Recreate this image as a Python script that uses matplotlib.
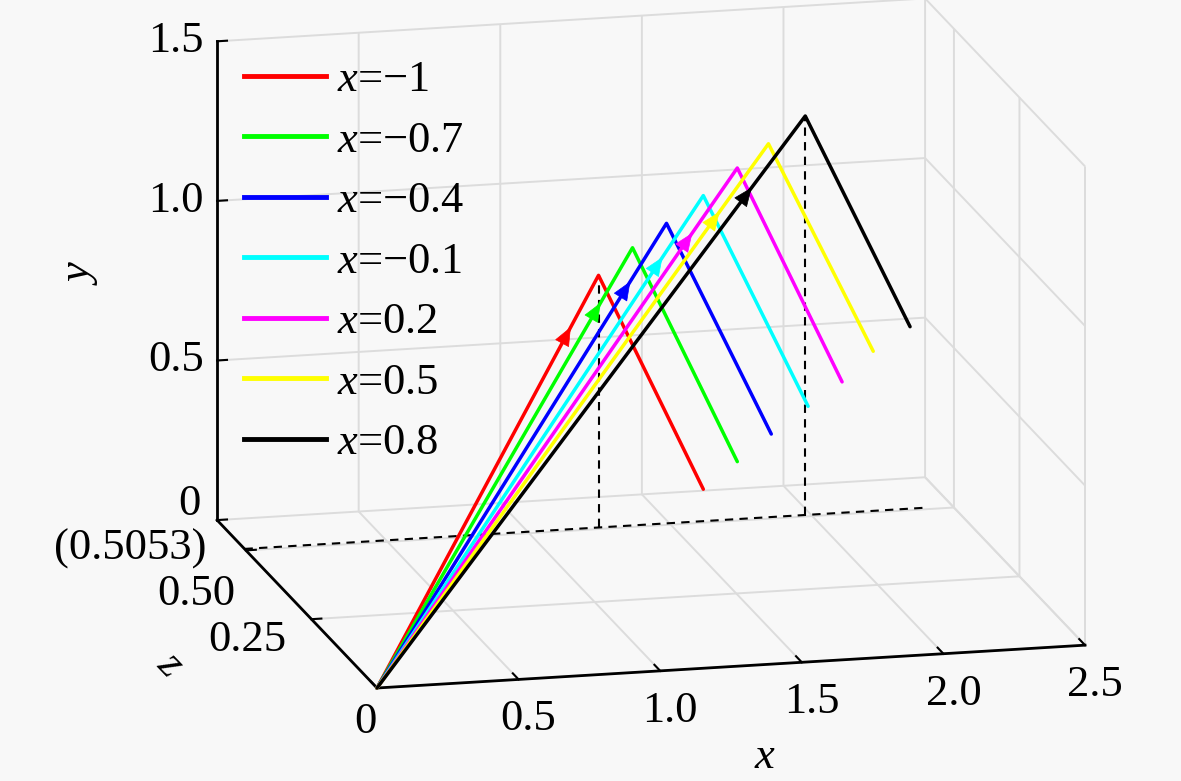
import numpy as np
import matplotlib
matplotlib.use('Agg')
import matplotlib.pyplot as plt
from matplotlib.lines import Line2D

plt.rcParams['font.family'] = ['Liberation Serif', 'DejaVu Serif']
plt.rcParams['mathtext.fontset'] = 'custom'
plt.rcParams['mathtext.rm'] = 'Liberation Serif'
plt.rcParams['mathtext.it'] = 'Liberation Serif:italic'

# ---------------- data ----------------
params = [-1, -0.7, -0.4, -0.1, 0.2, 0.5, 0.8]
legend_labels = ['$x$=\u22121', '$x$=\u22120.7', '$x$=\u22120.4', '$x$=\u22120.1',
                 '$x$=0.2', '$x$=0.5', '$x$=0.8']
colors = ['#ff0000', '#00ff00', '#0000ff', '#00ffff', '#ff00ff', '#ffff00', '#000000']
peak_x = [1.25, 1.37, 1.49, 1.62, 1.74, 1.85, 1.98]
peak_y = [0.79, 0.87, 0.94, 1.02, 1.10, 1.17, 1.25]
end_x = [1.62, 1.74, 1.86, 1.99, 2.11, 2.22, 2.35]
end_y = [0.10, 0.18, 0.26, 0.34, 0.41, 0.50, 0.57]
peak_z = 0.5053
arrow_frac = 0.875
ref_line_x_end = 2.4
drop_curves = [0, 6]          # curves whose peaks get a dashed drop line

x_ticks = [0, 0.5, 1.0, 1.5, 2.0, 2.5]
x_ticklabels = ['0', '0.5', '1.0', '1.5', '2.0', '2.5']
y_ticks = [0, 0.5, 1.0, 1.5]
y_ticklabels = ['0', '0.5', '1.0', '1.5']
z_ticks = [0.25, 0.5]
z_ticklabels = ['0.25', '0.50']
z_special_label = '(0.5053)'
x_lim = (0, 2.5)
y_lim = (0, 1.5)
z_lim = (0, 0.61)

# ---------------- figure ----------------
W, H = 1181, 781
BG = '#f8f8f8'
GRID = '#dcdcdc'
FS = 32
fig = plt.figure(figsize=(W / 100, H / 100), dpi=100, facecolor=BG)
ax = fig.add_axes([0.2, 0.2, 0.5, 0.5 * W / H], projection='3d',
                  proj_type='ortho', computed_zorder=False)
ax.set_facecolor((1, 1, 1, 0))

# mpl axes: x -> x, y (depth) -> chart z, z (vertical) -> chart y
ax.set_xlim(*x_lim)
ax.set_ylim(*z_lim)
ax.set_zlim(*y_lim)
ax.set_box_aspect((727, 684, 494))
ax.view_init(elev=14.6, azim=-103.5)

ax.set_xticks(x_ticks, labels=[''] * len(x_ticks))
ax.set_yticks([0] + z_ticks, labels=[''] * (len(z_ticks) + 1))
ax.set_zticks(y_ticks, labels=[''] * len(y_ticks))
for a in (ax.xaxis, ax.yaxis, ax.zaxis):
    a.set_pane_color((1, 1, 1, 0))
    a.pane.set_edgecolor((1, 1, 1, 0))
    a.line.set_color((0, 0, 0, 0))
    a._axinfo['grid'].update(color=GRID, linewidth=1.4, linestyle='-')
    a._axinfo['tick'].update(inward_factor=0, outward_factor=0)
    a.set_tick_params(colors=(0, 0, 0, 0))
ax.grid(True)

# axis lines (MATLAB style)
xl0, xl1 = x_lim
zl0, zl1 = z_lim
yl0, yl1 = y_lim
ax.plot([xl0, xl1], [zl0, zl0], [yl0, yl0], color='k', lw=2.0)
ax.plot([xl0, xl0], [zl0, zl1], [yl0, yl0], color='k', lw=2.0)
ax.plot([xl0, xl0], [zl1, zl1], [yl0, yl1], color='k', lw=2.0)
tick_dx = 0.035
tick_dz = 0.022
for t in x_ticks:
    ax.plot([t, t], [zl0, zl0 + tick_dz], [yl0, yl0], color='k', lw=1.5)
for t in y_ticks:
    ax.plot([xl0, xl0 + tick_dx], [zl1, zl1], [t, t], color='k', lw=1.5)
for t in z_ticks:
    ax.plot([xl0, xl0 + tick_dx], [t, t], [yl0, yl0], color='k', lw=1.5)

# dashed reference lines
ax.plot([xl0, ref_line_x_end], [peak_z, peak_z], [0, 0], color='k', lw=1.5,
        ls=(0, (4, 3)))
for i in drop_curves:
    ax.plot([peak_x[i], peak_x[i]], [peak_z, peak_z], [0, peak_y[i]], color='k',
            lw=1.5, ls=(0, (4, 3)))

# curves
for i in range(len(params)):
    xs = [0, peak_x[i], end_x[i]]
    zs = [0, peak_z, peak_z]
    ys = [0, peak_y[i], end_y[i]]
    ax.plot(xs, zs, ys, color=colors[i], lw=2.5, solid_capstyle='round')

# ---------- place the projected box at the right spot ----------
fig.canvas.draw()


def proj(x, y, z):
    M = ax.get_proj()
    v = M @ np.array([x, y, z, 1.0])
    return v[0] / v[3], v[1] / v[3]


def disp(x, y, z):
    return ax.transData.transform(proj(x, y, z))


d0 = disp(xl0, zl0, yl0)
d1 = disp(xl1, zl0, yl0)
t0 = np.array([377.0, H - 688.0])
t1 = np.array([1085.0, H - 645.0])
s = np.linalg.norm(t1 - t0) / np.linalg.norm(d1 - d0)
pos = ax.get_position()
L0 = np.array([pos.x0 * W, pos.y0 * H])
S0 = pos.width * W
n0 = (d0 - L0) / S0
S = S0 * s
L = t0 - S * n0
ax.set_position([L[0] / W, L[1] / H, S / W, S / H])

# arrowheads on the rising branches
for i in range(len(params)):
    f0, f1 = arrow_frac - 0.05, arrow_frac
    tail = proj(peak_x[i] * f0, peak_z * f0, peak_y[i] * f0)
    tip = proj(peak_x[i] * f1, peak_z * f1, peak_y[i] * f1)
    ax.annotate('', xy=tip, xytext=tail, xycoords='data', textcoords='data',
                arrowprops=dict(arrowstyle='-|>,head_length=0.6,head_width=0.25',
                                color=colors[i], lw=0.5, shrinkA=0, shrinkB=0,
                                mutation_scale=21),
                annotation_clip=False)

# tick labels
for t, lab in zip(x_ticks, x_ticklabels):
    off = (-12, -34) if t == 0 else (10, -40)
    ax.annotate(lab, xy=proj(t, zl0, yl0), xytext=off, textcoords='offset pixels',
                ha='center', va='center', fontsize=FS, annotation_clip=False)
for t, lab in zip(y_ticks, y_ticklabels):
    off = (-16, 16) if t == 0 else (-13, 0)
    ax.annotate(lab, xy=proj(xl0, zl1, t), xytext=off, textcoords='offset pixels',
                ha='right', va='center', fontsize=FS, annotation_clip=False)
z_offsets = [(-25, -21), (-11, -44)]
for t, lab, off in zip(z_ticks, z_ticklabels, z_offsets):
    ax.annotate(lab, xy=proj(xl0, t, yl0), xytext=off, textcoords='offset pixels',
                ha='right', va='center', fontsize=FS, annotation_clip=False)
ax.annotate(z_special_label, xy=proj(xl0, peak_z, yl0), xytext=(-38, 0),
            textcoords='offset pixels', ha='right', va='center', fontsize=FS,
            annotation_clip=False)

# axis labels
fig.text(765 / W, 1 - 757 / H, '$x$', ha='center', va='center', fontsize=FS)
fig.text(80 / W, 1 - 272 / H, '$y$', ha='center', va='center', fontsize=FS,
         rotation=90)
fig.text(170 / W, 1 - 665 / H, '$z$', ha='center', va='center', fontsize=FS,
         rotation=-46.6)

# legend
handles = [Line2D([], [], color=c, lw=3.5) for c in colors]
fig.legend(handles, legend_labels, loc='upper left',
           bbox_to_anchor=(244 / W, 1 - 60 / H), bbox_transform=fig.transFigure,
           frameon=False, fontsize=FS, handlelength=1.85, handletextpad=0.25,
           labelspacing=0.46, borderpad=0, borderaxespad=0)

fig.savefig('out.png', dpi=100, facecolor=BG)
